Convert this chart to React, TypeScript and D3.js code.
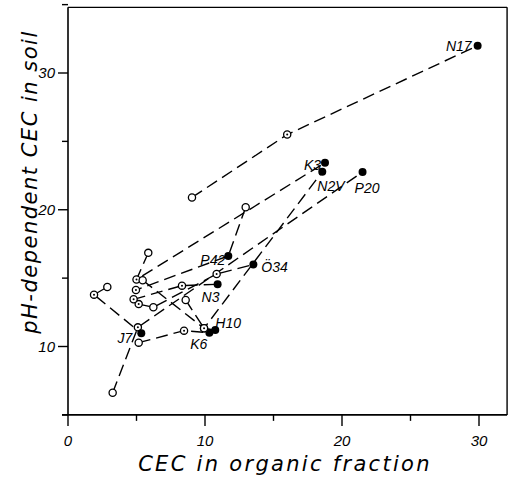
import React from "react";
import * as d3 from "d3";

// Series: open circle (o), dotted circle (d), filled circle (f)
const seriesNames = ["N17", "K3", "N2V", "P20", "J7", "K6", "H10", "P42", "Ö34", "N3"];
const seriesX: number[][] = [
  [9.05, 16.0, 29.9],
  [5.86, 5.0, 18.76],
  [5.45, 9.93, 18.56],
  [3.26, 5.1, 21.5],
  [2.87, 1.9, 5.35],
  [5.16, 8.47, 10.32],
  [8.59, 9.93, 10.75],
  [12.97, 11.7, 4.96],
  [5.16, 6.23, 10.85, 13.53],
  [4.79, 8.32, 10.92],
];
const seriesY: number[][] = [
  [20.9, 25.5, 32.0],
  [16.85, 14.9, 23.44],
  [14.85, 11.33, 22.78],
  [6.62, 11.4, 22.76],
  [14.35, 13.79, 10.96],
  [10.28, 11.16, 11.0],
  [13.4, 11.33, 11.2],
  [20.18, 16.62, 14.13],
  [13.1, 12.87, 15.3, 16.0],
  [13.45, 14.45, 14.55],
];
const seriesKinds: string[][] = [
  ["o", "d", "f"],
  ["o", "d", "f"],
  ["o", "d", "f"],
  ["o", "d", "f"],
  ["o", "d", "f"],
  ["o", "d", "f"],
  ["o", "d", "f"],
  ["o", "f", "d"],
  ["d", "o", "d", "f"],
  ["d", "d", "f"],
];
// label placement relative to the filled point: [dx, dy, anchor]
const labelPlace: [number, number, string][] = [
  [-6, 5, "end"],
  [-4, 7, "end"],
  [-5, 19, "start"],
  [-8, 21, "start"],
  [-9, 10, "end"],
  [-2, 16, "end"],
  [0, -2, "start"],
  [-3, 9, "end"],
  [8, 8, "start"],
  [-16, 18, "start"],
];

const xTicksMajor = [0, 10, 20, 30];
const xTicksMinor = [5, 15, 25];
const yTicksMajor = [10, 20, 30];
const yTicksMinor = [5, 15, 25, 35];

const xTitle = "CEC in organic fraction";
const yTitle = "pH-dependent CEC in soil";

export default function App() {
  const x = d3.scaleLinear().domain([0, 30]).range([68, 479]);
  const y = d3.scaleLinear().domain([10, 30]).range([346.5, 73]);
  const font = "'Liberation Sans', 'DejaVu Sans', sans-serif";
  const titleFont = "'DejaVu Sans', sans-serif";
  const line = d3
    .line<[number, number]>()
    .x((d) => x(d[0]))
    .y((d) => y(d[1]));

  const x0 = x(0);
  const x1 = x(32.05);
  const yb = y(5);
  const yt = y(34.8);

  return (
    <svg
      width={515}
      height={479}
      style={{ position: "absolute", left: 0, top: 0, background: "#fff" }}
    >
      <rect x={0} y={0} width={515} height={479} fill="#fff" />
      {/* frame */}
      <line x1={x0} x2={x0} y1={yt} y2={yb} stroke="#000" strokeWidth={1.6} />
      <line x1={x0 - 6} x2={x1} y1={yb} y2={yb} stroke="#000" strokeWidth={1.6} />
      <line x1={x0} x2={x1} y1={yt} y2={yt} stroke="#000" strokeWidth={1.4} />
      <line x1={x1} x2={x1} y1={yt} y2={yb} stroke="#000" strokeWidth={1.4} />

      {/* x ticks */}
      {xTicksMajor.map((t) => (
        <g key={"xm" + t}>
          <line x1={x(t)} x2={x(t)} y1={yb} y2={yb + 11} stroke="#000" strokeWidth={1.4} />
          <text
            x={x(t)}
            y={446}
            textAnchor="middle"
            fontFamily={font}
            fontStyle="italic"
            fontSize={15}
          >
            {t}
          </text>
        </g>
      ))}
      {xTicksMinor.map((t) => (
        <line key={"xn" + t} x1={x(t)} x2={x(t)} y1={yb} y2={yb + 6} stroke="#000" strokeWidth={1.4} />
      ))}
      {/* y ticks */}
      {yTicksMajor.map((t) => (
        <g key={"ym" + t}>
          <line x1={x0 - 10} x2={x0} y1={y(t)} y2={y(t)} stroke="#000" strokeWidth={1.4} />
          <text
            x={55}
            y={y(t) + 5}
            textAnchor="end"
            fontFamily={font}
            fontStyle="italic"
            fontSize={15}
          >
            {t}
          </text>
        </g>
      ))}
      {yTicksMinor.map((t) => (
        <line key={"yn" + t} x1={x0 - 6} x2={x0} y1={y(t)} y2={y(t)} stroke="#000" strokeWidth={1.4} />
      ))}

      {/* titles */}
      <text
        x={285}
        y={471}
        textAnchor="middle"
        fontFamily={titleFont}
        fontStyle="italic"
        fontWeight={200}
        fontSize={21}
        letterSpacing={2.3}
      >
        {xTitle}
      </text>
      <text
        transform={`translate(37,${182}) rotate(-90)`}
        textAnchor="middle"
        fontFamily={titleFont}
        fontStyle="italic"
        fontWeight={200}
        fontSize={21}
        letterSpacing={1.5}
      >
        {yTitle}
      </text>

      {/* dashed connection lines */}
      {seriesNames.map((n, i) => {
        const pts = seriesX[i].map((v, j) => [v, seriesY[i][j]] as [number, number]);
        return (
          <path
            key={"l" + n}
            d={line(pts) || ""}
            fill="none"
            stroke="#000"
            strokeWidth={1.4}
            strokeDasharray="12,6"
          />
        );
      })}

      {/* points */}
      {seriesNames.map((n, i) =>
        seriesX[i].map((v, j) => {
          const k = seriesKinds[i][j];
          const cx = x(v);
          const cy = y(seriesY[i][j]);
          if (k === "f")
            return <circle key={n + j} cx={cx} cy={cy} r={4} fill="#000" />;
          return (
            <g key={n + j}>
              <circle cx={cx} cy={cy} r={3.6} fill="#fff" stroke="#000" strokeWidth={1.3} />
              {k === "d" && <circle cx={cx} cy={cy} r={1} fill="#000" />}
            </g>
          );
        })
      )}

      {/* labels */}
      {seriesNames.map((n, i) => {
        const fi = seriesKinds[i].indexOf("f");
        const [dx, dy, anchor] = labelPlace[i];
        return (
          <text
            key={"t" + n}
            x={x(seriesX[i][fi]) + dx}
            y={y(seriesY[i][fi]) + dy}
            textAnchor={anchor as any}
            fontFamily={font}
            fontStyle="italic"
            fontSize={14}
          >
            {n}
          </text>
        );
      })}
    </svg>
  );
}
